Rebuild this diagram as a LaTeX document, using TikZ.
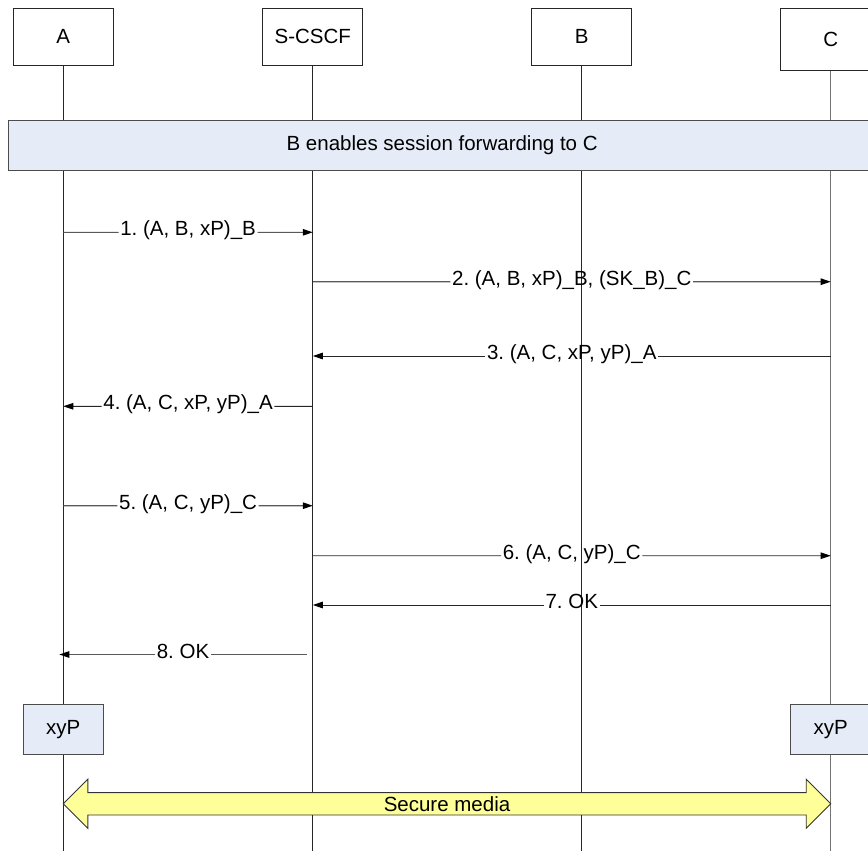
\documentclass[tikz,border=0pt]{standalone}
\usepackage{fontspec}
\setmainfont{Liberation Sans}
\usetikzlibrary{arrows.meta,shapes.arrows,calc}
\definecolor{notefill}{HTML}{E6ECF7}
\definecolor{mediafill}{HTML}{FFFF99}
\frenchspacing
\begin{document}
\begin{tikzpicture}[x=1pt,y=-1pt,
  every node/.style={font=\fontsize{20.5}{24}\selectfont},
  party/.style={draw=black!85, line width=0.9pt, fill=white, minimum width=100pt,
                minimum height=56.7pt, inner sep=0pt},
  lifeline/.style={draw=black!85, line width=0.8pt},
  lifelineC/.style={draw=black!55, line width=1.1pt},
  msg/.style={line width=0.9pt, draw=black!85},
  msggray/.style={line width=1.1pt, draw=black!65},
  tip/.style={-{Triangle[length=10pt,width=6.5pt,color=black]}},
  lbl/.style={inner sep=1.5pt, text height=0.72em, text depth=0pt},
  note/.style={draw=black!70, line width=0.9pt, fill=notefill, inner sep=0pt},
]
\useasboundingbox (0,0) rectangle (868,851);

% participants
\node[party] (pA) at (63.3,36.7) {A};
\node[party] (pS) at (312.8,36.7) {S-CSCF};
\node[party] (pB) at (581.7,36.7) {B};
\node[party, minimum height=62.4pt] (pC) at (830.7,39.5) {C};

% lifeline ends
\coordinate (eA) at (63.3,851);
\coordinate (eS) at (312.8,851);
\coordinate (eB) at (581.7,851);
\coordinate (eC) at (830.7,851);

\draw[lifeline] (pA.south) -- (eA);
\draw[lifeline] (pS.south) -- (eS);
\draw[lifeline] (pB.south) -- (eB);
\draw[lifelineC] (pC.south) -- (eC);

% banner across all lifelines
\node[note, minimum width=867.7pt, minimum height=50pt] (banner) at (442.15,145)
  {B enables session forwarding to C};

% key boxes
\node[note, minimum width=80.6pt, minimum height=49.7pt] (kA) at (63.3,729.2) {xyP};
\node[note, minimum width=80.6pt, minimum height=49.7pt] (kC) at (830.7,729.2) {xyP};

% secure media double arrow
\node[double arrow, draw=black!80, line width=0.9pt, fill=mediafill,
      minimum width=49pt, minimum height=767.4pt, inner sep=0pt,
      double arrow head extend=9.5pt, double arrow tip angle=90] (media)
  at (447,803.8) {Secure media};

% message endpoints
\coordinate (a1) at (63.3,232.3);  \coordinate (s1) at (312.8,232.3);
\coordinate (s2) at (312.8,281.7); \coordinate (c2) at (830.7,281.7);
\coordinate (c3) at (830.7,356);   \coordinate (s3) at (312.8,356);
\coordinate (s4) at (312.8,406.3); \coordinate (a4) at (63.3,406.3);
\coordinate (a5) at (63.3,505.7);  \coordinate (s5) at (312.8,505.7);
\coordinate (s6) at (312.8,555.7); \coordinate (c6) at (830.7,555.7);
\coordinate (c7) at (830.7,605);   \coordinate (s7) at (312.8,605);
\coordinate (s8) at (306.7,654.5); \coordinate (a8) at (59.3,654.5);

% messages: line, label, arrowed line
\node[lbl] (l1) at ($(a1)!0.5!(s1)$) {1. (A, B, xP)\_B};
\draw[msggray] (a1) -- (l1.west);
\draw[msggray,tip] (l1.east) -- (s1);

\node[lbl] (l2) at ($(s2)!0.5!(c2)$) {2. (A, B, xP)\_B, (SK\_B)\_C};
\draw[msggray] (s2) -- (l2.west);
\draw[msggray,tip] (l2.east) -- (c2);

\node[lbl] (l3) at ($(c3)!0.5!(s3)$) {3. (A, C, xP, yP)\_A};
\draw[msg] (c3) -- (l3.east);
\draw[msg,tip] (l3.west) -- (s3);

\node[lbl] (l4) at ($(s4)!0.5!(a4)$) {4. (A, C, xP, yP)\_A};
\draw[msg] (s4) -- (l4.east);
\draw[msg,tip] (l4.west) -- (a4);

\node[lbl] (l5) at ($(a5)!0.5!(s5)$) {5. (A, C, yP)\_C};
\draw[msggray] (a5) -- (l5.west);
\draw[msggray,tip] (l5.east) -- (s5);

\node[lbl] (l6) at ($(s6)!0.5!(c6)$) {6. (A, C, yP)\_C};
\draw[msg] (s6) -- (l6.west);
\draw[msg,tip] (l6.east) -- (c6);

\node[lbl] (l7) at ($(c7)!0.5!(s7)$) {7. OK};
\draw[msg] (c7) -- (l7.east);
\draw[msg,tip] (l7.west) -- (s7);

\node[lbl] (l8) at ($(s8)!0.5!(a8)$) {8. OK};
\draw[msggray] (s8) -- (l8.east);
\draw[msggray,tip] (l8.west) -- (a8);
\end{tikzpicture}
\end{document}
